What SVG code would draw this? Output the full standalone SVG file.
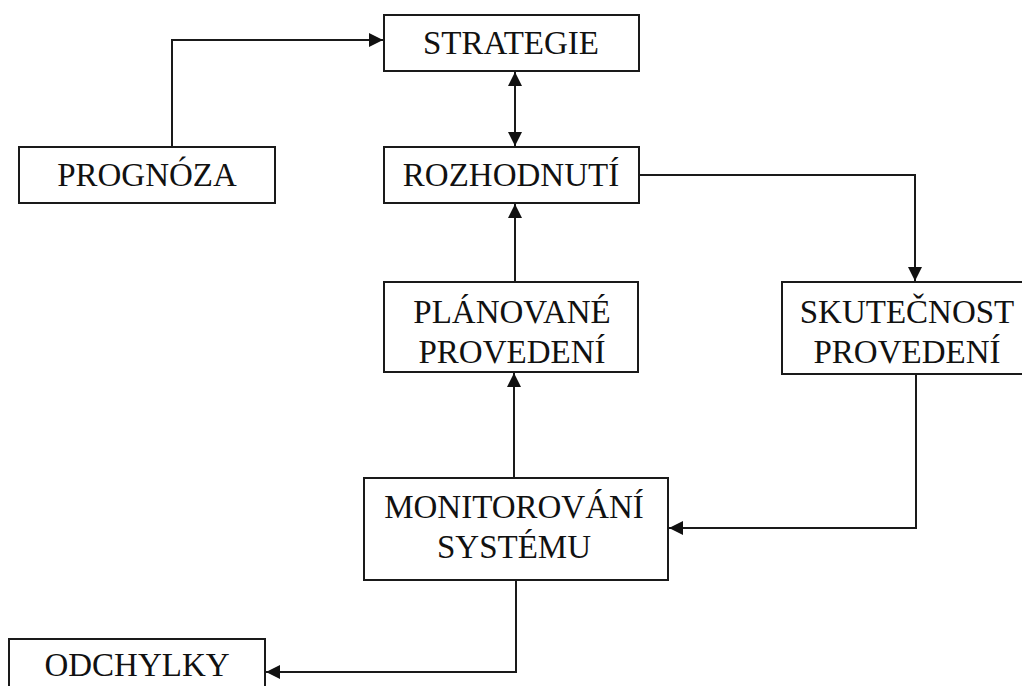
<svg xmlns="http://www.w3.org/2000/svg" width="1022" height="686" viewBox="0 0 1022 686">
  <style>
    .box { fill: #fff; stroke: #1a1a1a; stroke-width: 2; }
    .lbl { font-family: "Liberation Serif", "Times New Roman", serif; font-size: 33px; fill: #111; text-anchor: middle; }
    .link { fill: none; stroke: #1a1a1a; stroke-width: 2; }
  </style>
  <defs>
    <marker id="arrow" viewBox="0 0 14 14" refX="14" refY="7" markerWidth="14" markerHeight="14" markerUnits="userSpaceOnUse" orient="auto-start-reverse">
      <path d="M0,0 L14,7 L0,14 z" fill="#111"/>
    </marker>
  </defs>
  <rect width="1022" height="686" fill="#fff"/>

  <g id="connectors">
    <!-- forecast feeds strategy -->
    <path class="link" d="M172,147 V40 H383" marker-end="url(#arrow)"/>
    <!-- strategy <-> decision -->
    <path class="link" d="M515,72 V146" marker-start="url(#arrow)" marker-end="url(#arrow)"/>
    <!-- decision -> actual execution -->
    <path class="link" d="M639,175 H915 V281" marker-end="url(#arrow)"/>
    <!-- planned execution -> decision -->
    <path class="link" d="M515,282 V204" marker-end="url(#arrow)"/>
    <!-- monitoring -> planned execution -->
    <path class="link" d="M514,478 V373" marker-end="url(#arrow)"/>
    <!-- actual execution -> monitoring -->
    <path class="link" d="M916,374 V528 H669" marker-end="url(#arrow)"/>
    <!-- monitoring -> deviations -->
    <path class="link" d="M516,580 V672 H266" marker-end="url(#arrow)"/>
  </g>

  <g id="strategie">
    <rect class="box" x="384" y="15" width="255" height="56"/>
    <text class="lbl" x="511" y="54">STRATEGIE</text>
  </g>
  <g id="prognoza">
    <rect class="box" x="19" y="147" width="256" height="56"/>
    <text class="lbl" x="147" y="186">PROGNÓZA</text>
  </g>
  <g id="rozhodnuti">
    <rect class="box" x="384" y="147" width="255" height="56"/>
    <text class="lbl" x="511" y="186">ROZHODNUTÍ</text>
  </g>
  <g id="planovane">
    <rect class="box" x="384" y="282" width="254" height="90"/>
    <text class="lbl" x="512" y="323">PLÁNOVANÉ</text>
    <text class="lbl" x="512" y="363">PROVEDENÍ</text>
  </g>
  <g id="skutecnost">
    <rect class="box" x="782" y="282" width="250" height="92"/>
    <text class="lbl" x="907" y="323">SKUTEČNOST</text>
    <text class="lbl" x="907" y="363">PROVEDENÍ</text>
  </g>
  <g id="monitorovani">
    <rect class="box" x="364" y="478" width="304" height="102"/>
    <text class="lbl" x="514" y="518">MONITOROVÁNÍ</text>
    <text class="lbl" x="514" y="558">SYSTÉMU</text>
  </g>
  <g id="odchylky">
    <rect class="box" x="9" y="639" width="256" height="60"/>
    <text class="lbl" x="137" y="676">ODCHYLKY</text>
  </g>
</svg>
